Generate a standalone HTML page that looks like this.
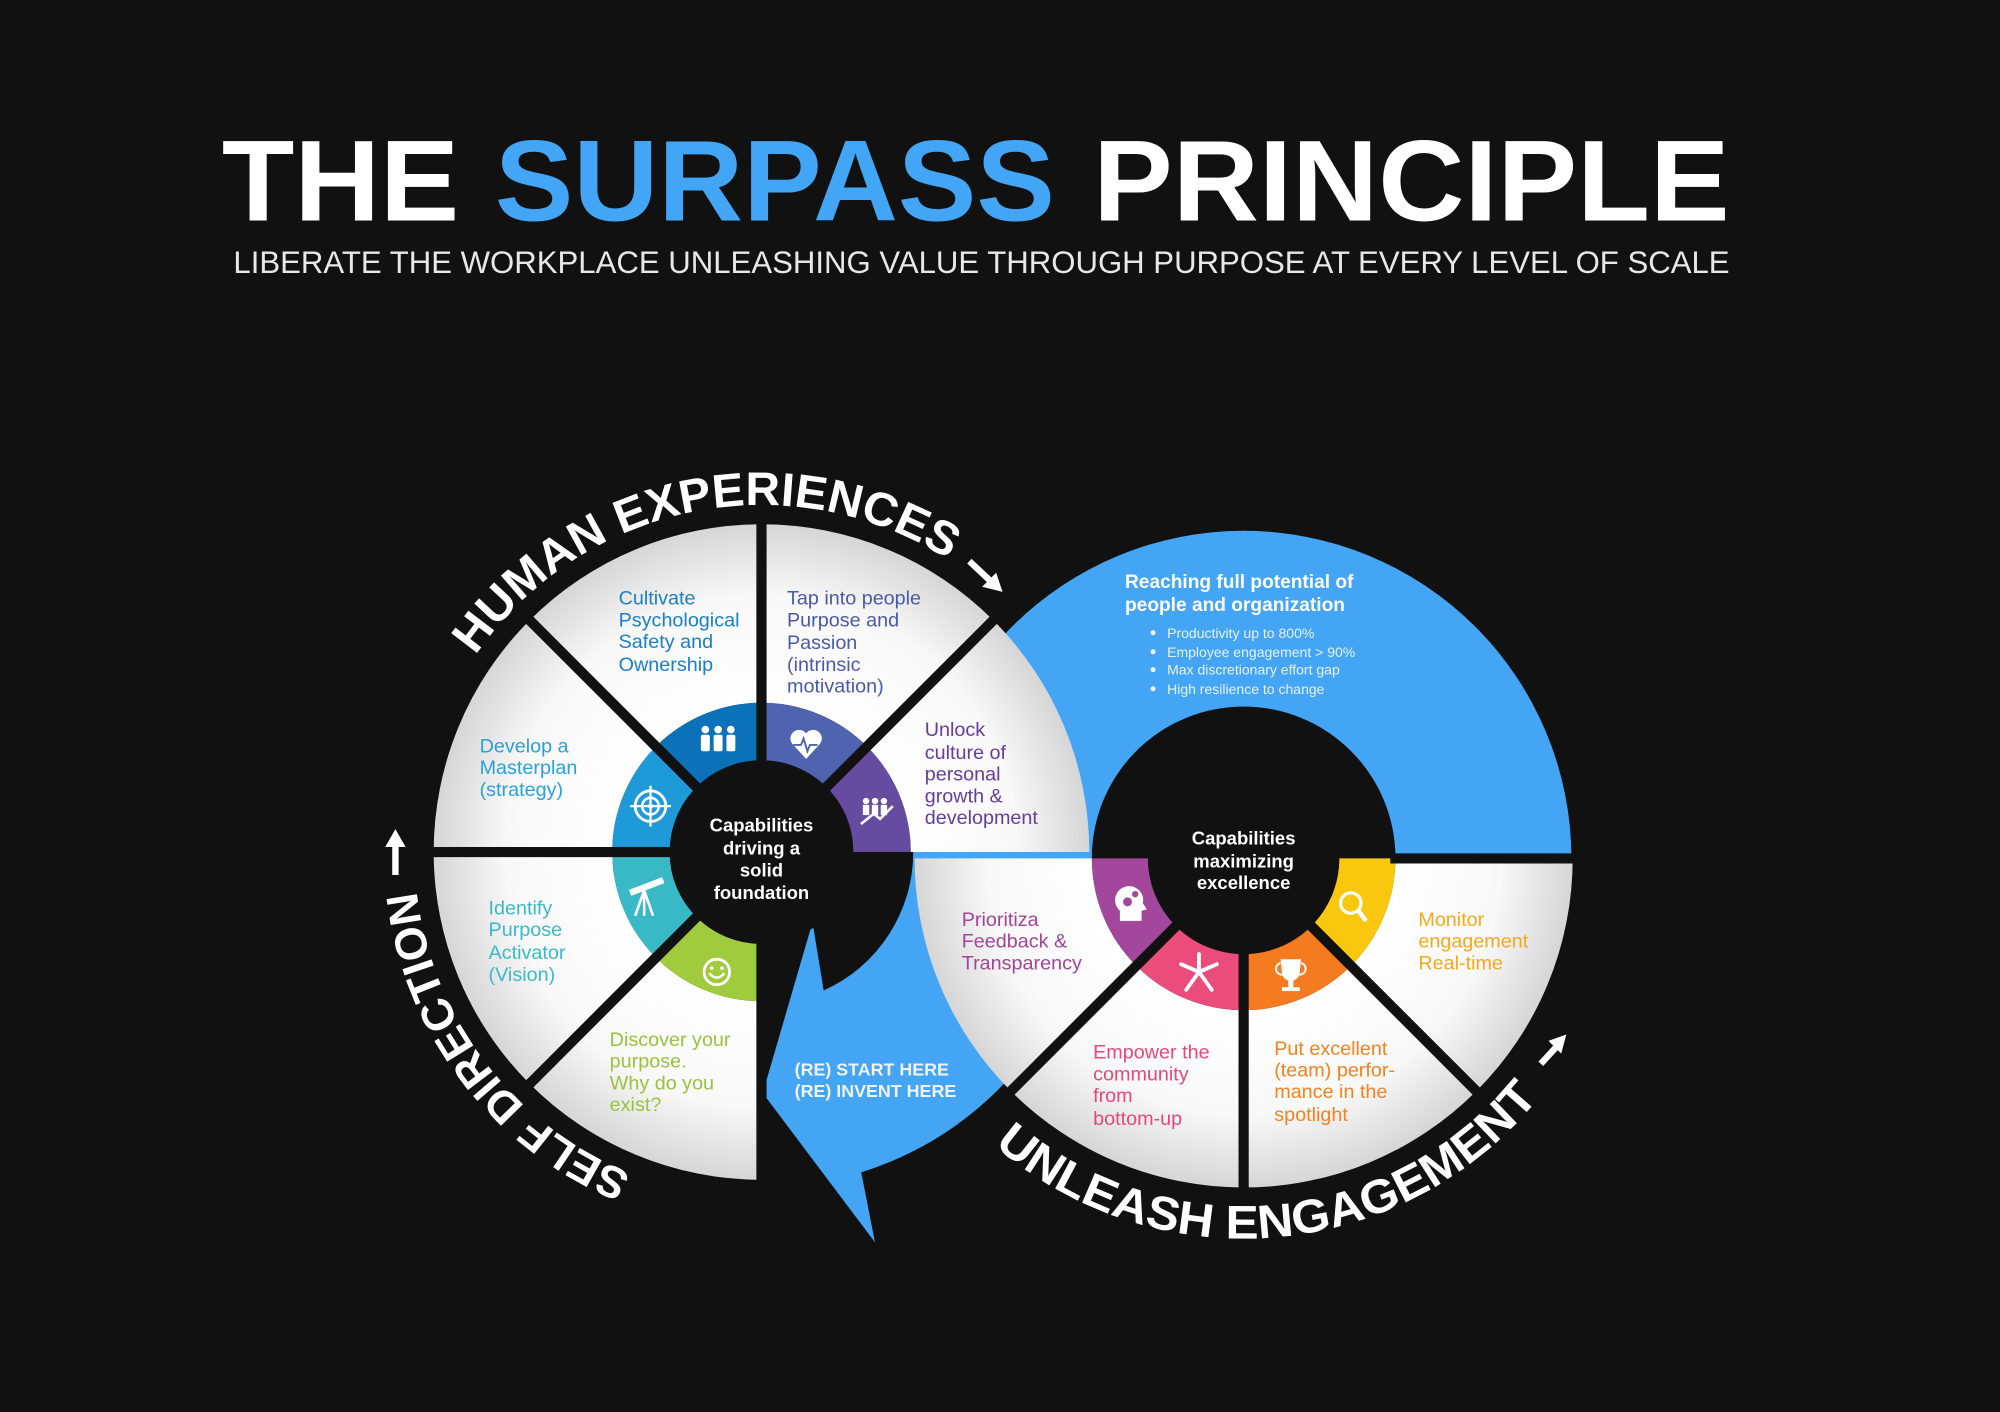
<!DOCTYPE html>
<html><head><meta charset="utf-8"><style>
html,body{margin:0;padding:0;background:#111;}
svg{display:block;}
text{font-family:"Liberation Sans",sans-serif;}
</style></head><body>
<svg id="s" width="2000" height="1412" viewBox="0 0 1568 1107" preserveAspectRatio="none" xmlns="http://www.w3.org/2000/svg">
<defs>
<radialGradient id="gL" gradientUnits="userSpaceOnUse" cx="597" cy="668" r="257"><stop offset="0.45" stop-color="#fff"/><stop offset="0.78" stop-color="#f8f8f8"/><stop offset="1" stop-color="#d6d6d6"/></radialGradient>
<radialGradient id="gR" gradientUnits="userSpaceOnUse" cx="975" cy="673" r="258"><stop offset="0.47" stop-color="#fff"/><stop offset="0.78" stop-color="#f8f8f8"/><stop offset="1" stop-color="#d6d6d6"/></radialGradient>
<path id="pHuman" d="M372.8,513.9 A272,272 0 0 1 749.1,442.5" fill="none"/>
<path id="pSelf" d="M495.1,920.2 A272,272 0 0 1 326.5,696.4" fill="none"/>
<path id="pUnl" d="M779.5,897.9 A298,298 0 0 0 1209.8,856.5" fill="none"/>
</defs>
<rect width="1568" height="1107" fill="#111"/>
<g id="shapes"></g>

<text x="174" y="173" font-size="90" font-weight="bold" fill="#fff" textLength="186" lengthAdjust="spacingAndGlyphs">THE</text>
<text x="388" y="173" font-size="90" font-weight="bold" fill="#42a5f5" textLength="439" lengthAdjust="spacingAndGlyphs">SURPASS</text>
<text x="857" y="173" font-size="90" font-weight="bold" fill="#fff" textLength="499" lengthAdjust="spacingAndGlyphs">PRINCIPLE</text>
<text x="183" y="214" font-size="24.5" fill="#e8e8e8" textLength="1173" lengthAdjust="spacingAndGlyphs">LIBERATE THE WORKPLACE UNLEASHING VALUE THROUGH PURPOSE AT EVERY LEVEL OF SCALE</text>

<g font-size="15.5">
<text fill="#1a80c8"><tspan x="485" y="474">Cultivate</tspan><tspan x="485" y="491">Psychological</tspan><tspan x="485" y="508">Safety and</tspan><tspan x="485" y="526">Ownership</tspan></text>
<text fill="#4a5aa8"><tspan x="617" y="474">Tap into people</tspan><tspan x="617" y="491">Purpose and</tspan><tspan x="617" y="509">Passion</tspan><tspan x="617" y="526">(intrinsic</tspan><tspan x="617" y="543">motivation)</tspan></text>
<text fill="#2aa0dc"><tspan x="376" y="590">Develop a</tspan><tspan x="376" y="607">Masterplan</tspan><tspan x="376" y="624">(strategy)</tspan></text>
<text fill="#3ab9c8"><tspan x="383" y="717">Identify</tspan><tspan x="383" y="734">Purpose</tspan><tspan x="383" y="752">Activator</tspan><tspan x="383" y="769">(Vision)</tspan></text>
<text fill="#9ac23c"><tspan x="478" y="820">Discover your</tspan><tspan x="478" y="837">purpose.</tspan><tspan x="478" y="854">Why do you</tspan><tspan x="478" y="871">exist?</tspan></text>
<text fill="#653d9d"><tspan x="725" y="577">Unlock</tspan><tspan x="725" y="595">culture of</tspan><tspan x="725" y="612">personal</tspan><tspan x="725" y="629">growth &amp;</tspan><tspan x="725" y="646">development</tspan></text>
<text fill="#a1449a"><tspan x="754" y="726">Prioritiza</tspan><tspan x="754" y="743">Feedback &amp;</tspan><tspan x="754" y="760">Transparency</tspan></text>
<text fill="#e8477b"><tspan x="857" y="830">Empower the</tspan><tspan x="857" y="847">community</tspan><tspan x="857" y="864">from</tspan><tspan x="857" y="882">bottom-up</tspan></text>
<text fill="#f4821f"><tspan x="999" y="827">Put excellent</tspan><tspan x="999" y="844">(team) perfor-</tspan><tspan x="999" y="861">mance in the</tspan><tspan x="999" y="879">spotlight</tspan></text>
<text fill="#f7a81b"><tspan x="1112" y="726">Monitor</tspan><tspan x="1112" y="743">engagement</tspan><tspan x="1112" y="760">Real-time</tspan></text>
</g>

<g font-size="14.5" font-weight="bold" fill="#fff" text-anchor="middle">
<text><tspan x="597" y="652">Capabilities</tspan><tspan x="597" y="670">driving a</tspan><tspan x="597" y="687">solid</tspan><tspan x="597" y="705">foundation</tspan></text>
<text><tspan x="975" y="662">Capabilities</tspan><tspan x="975" y="680">maximizing</tspan><tspan x="975" y="697">excellence</tspan></text>
</g>
<g font-weight="bold" fill="#fff" font-size="15">
<text x="882" y="461">Reaching full potential of</text>
<text x="882" y="479">people and organization</text>
<text font-size="14" fill="#f2f2f2"><tspan x="623" y="843">(RE) START HERE</tspan><tspan x="623" y="860">(RE) INVENT HERE</tspan></text>
</g>
<g font-size="11" fill="#e6f1fc">
<text x="915" y="500">Productivity up to 800%</text>
<text x="915" y="515">Employee engagement &gt; 90%</text>
<text x="915" y="529">Max discretionary effort gap</text>
<text x="915" y="544">High resilience to change</text>
<circle cx="904" cy="496" r="2"/><circle cx="904" cy="511" r="2"/><circle cx="904" cy="525" r="2"/><circle cx="904" cy="540" r="2"/>
</g>

<g font-size="37" font-weight="bold" fill="#fff">
<text><textPath href="#pHuman" textLength="418" lengthAdjust="spacingAndGlyphs">HUMAN EXPERIENCES</textPath></text>
<text font-size="35"><textPath href="#pSelf" textLength="292" lengthAdjust="spacingAndGlyphs">SELF DIRECTION</textPath></text>
<text><textPath href="#pUnl" textLength="478" lengthAdjust="spacingAndGlyphs">UNLEASH ENGAGEMENT</textPath></text>
</g>
<g fill="#fff" stroke="#fff">
<line x1="760" y1="440" x2="776" y2="455" stroke-width="5"/><polygon points="786,464 770,460 781,449" stroke="none"/>
<line x1="310" y1="686" x2="310" y2="664" stroke-width="5"/><polygon points="310,650 302,664 318,664" stroke="none"/>
<line x1="1208" y1="834" x2="1220" y2="821" stroke-width="5"/><polygon points="1228,811 1214,816 1224,826" stroke="none"/>
</g>

<g id="icons" fill="#fff" stroke="#fff">
<g stroke="none"><circle cx="553" cy="572" r="3"/><rect x="549.5" y="576" width="7" height="13" rx="1.5"/><circle cx="563" cy="572" r="3"/><rect x="559.5" y="576" width="7" height="13" rx="1.5"/><circle cx="573" cy="572" r="3"/><rect x="569.5" y="576" width="7" height="13" rx="1.5"/></g>
<path d="M632,595 L621,583 A6,6 0 0 1 632,575 A6,6 0 0 1 643,583 Z" stroke="none"/>
<polyline points="622,584 628,584 630,579 633,589 635,584 641,584" fill="none" stroke="#4f63ae" stroke-width="1.5"/>
<g stroke="none"><circle cx="679" cy="628" r="2.5"/><rect x="676.5" y="631" width="5" height="8"/><circle cx="686" cy="628" r="2.5"/><rect x="683.5" y="631" width="5" height="8"/><circle cx="693" cy="628" r="2.5"/><rect x="690.5" y="631" width="5" height="8"/></g>
<polyline points="675,646 685,638 690,642 700,632" fill="none" stroke-width="2"/>
<circle cx="510" cy="632" r="12" fill="none" stroke-width="2.2"/><circle cx="510" cy="632" r="6.5" fill="none" stroke-width="2"/><circle cx="510" cy="632" r="2" stroke="none"/>
<line x1="494" y1="632" x2="526" y2="632" stroke-width="1.8"/><line x1="510" y1="616" x2="510" y2="648" stroke-width="1.8"/>
<line x1="494" y1="700" x2="520" y2="690" stroke-width="5"/><line x1="505" y1="698" x2="498" y2="718" stroke-width="2"/><line x1="505" y1="698" x2="512" y2="718" stroke-width="2"/><line x1="505" y1="698" x2="505" y2="718" stroke-width="2"/>
<circle cx="562" cy="762" r="10" fill="none" stroke-width="2.2"/><path d="M556,763 Q562,770 568,763" fill="none" stroke-width="2"/><circle cx="558" cy="759" r="1.4" stroke="none"/><circle cx="566" cy="759" r="1.4" stroke="none"/>
<path d="M878,722 L878,714 A11,11 0 1 1 896,708 L899,713 L895,714 L895,722 Z" stroke="none"/>
<circle cx="884" cy="707" r="3.5" fill="#a3479c" stroke="none"/><circle cx="890" cy="701" r="2.5" fill="#a3479c" stroke="none"/>
<g stroke-width="3" stroke-linecap="round"><line x1="940" y1="762" x2="940" y2="748"/><line x1="940" y1="762" x2="954" y2="756"/><line x1="940" y1="762" x2="950" y2="776"/><line x1="940" y1="762" x2="930" y2="776"/><line x1="940" y1="762" x2="926" y2="756"/></g>
<path d="M1004,752 L1020,752 L1019,762 A7,7 0 0 1 1005,762 Z" stroke="none"/><rect x="1010" y="768" width="4" height="6" stroke="none"/><rect x="1005" y="774" width="14" height="3" stroke="none"/>
<path d="M1004,755 A4,4 0 0 0 1006,764 M1020,755 A4,4 0 0 1 1018,764" fill="none" stroke-width="1.5"/>
<circle cx="1059" cy="708" r="8" fill="none" stroke-width="2.5"/><line x1="1065" y1="714" x2="1071" y2="722" stroke-width="3.5"/>
</g>

<script>
(function(){
var NS="http://www.w3.org/2000/svg", g=document.getElementById("shapes");
function P(a,r,cx,cy){var t=a*Math.PI/180;return [cx+r*Math.cos(t),cy+r*Math.sin(t)];}
function sec(cx,cy,r1,r2,a1,a2,fill){
 var o1=P(a1,r2,cx,cy),o2=P(a2,r2,cx,cy),i2=P(a2,r1,cx,cy),i1=P(a1,r1,cx,cy),L=(a2-a1)>180?1:0;
 var d="M"+o1+" A"+r2+","+r2+" 0 "+L+" 1 "+o2+" L"+i2+" A"+r1+","+r1+" 0 "+L+" 0 "+i1+" Z";
 add("path",{d:d,fill:fill});}
function add(t,at){var e=document.createElementNS(NS,t);for(var k in at)e.setAttribute(k,at[k]);g.appendChild(e);return e;}
var B="#44a5f4";
sec(975,673,119,257,180,360,B);
var o0=P(0,263,597,668),oE=P(72.7,263,597,668),iE=P(65.8,119,597,668),i0=P(0,119,597,668);
add("path",{d:"M"+i0+" L"+o0+" A263,263 0 0 1 "+oE+" L686,974 L598,857 L637,723 L"+iE+" A119,119 0 0 0 "+i0+" Z",fill:B});
add("circle",{cx:975,cy:673,r:119,fill:"#111"});
var rs=[[135,180,"#a3479c"],[90,135,"#ea4c7c"],[45,90,"#f47b20"],[0,45,"#f9c80e"]];
rs.forEach(function(s){sec(975,673,119,258,s[0],s[1],"url(#gR)");sec(975,673,75,119,s[0],s[1],s[2]);});
add("circle",{cx:975,cy:673,r:75,fill:"#111"});
[45,90,135].forEach(function(a){var p=P(a,263,975,673);add("line",{x1:975,y1:673,x2:p[0],y2:p[1],stroke:"#111","stroke-width":8});});
add("line",{x1:1090,y1:673,x2:1240,y2:673,stroke:"#111","stroke-width":8});
var ls=[[315,360,"#664ca0"],[270,315,"#4f63ae"],[225,270,"#0b72b9"],[180,225,"#1f9ad8"],[135,180,"#39b8c6"],[90,135,"#9fcb3c"]];
ls.forEach(function(s){sec(597,668,117,257,s[0],s[1],"url(#gL)");sec(597,668,72,117,s[0],s[1],s[2]);});
add("circle",{cx:597,cy:668,r:72,fill:"#111"});
[90,135,180,225,270,315].forEach(function(a){var p=P(a,262,597,668);add("line",{x1:597,y1:668,x2:p[0],y2:p[1],stroke:"#111","stroke-width":8});});
})();
</script>
</svg>
</body></html>
